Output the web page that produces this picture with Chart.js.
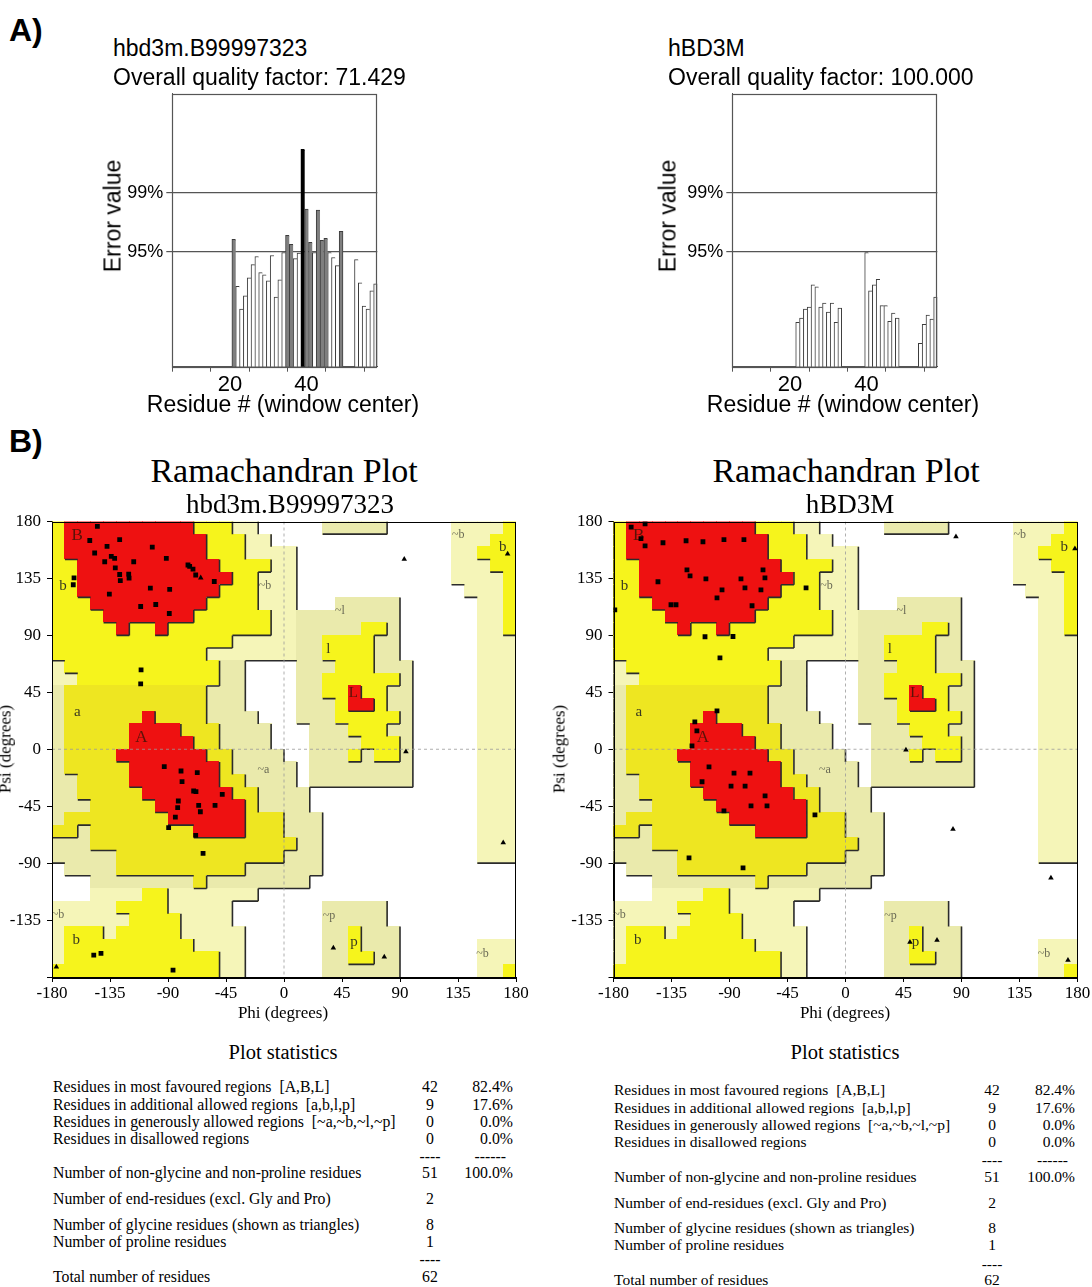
<!DOCTYPE html>
<html><head><meta charset="utf-8">
<script src="https://cdn.jsdelivr.net/npm/chart.js@4.4.1/dist/chart.umd.min.js"></script>
<style>
html,body{margin:0;padding:0;background:#fff;}
#page{position:relative;width:1092px;height:1287px;overflow:hidden;background:#fff;}
canvas{position:absolute;}
.t{position:absolute;white-space:pre;line-height:1;color:#000;}
</style></head><body><div id="page">
<canvas id="errL" width="300" height="330" style="left:100px;top:80px"></canvas>
<canvas id="errR" width="300" height="330" style="left:660px;top:80px"></canvas>
<canvas id="ramaL" width="546" height="530" style="left:0px;top:500px"></canvas>
<canvas id="ramaR" width="532" height="530" style="left:560px;top:500px"></canvas>
</div>
<script>
// ---------------- DATA ----------------
// ERRAT error values (window centre residue -> error value)
const errLResidues = [21,22,23,24,25,26,27,28,29,30,31,32,33,34,35,36,37,38,39,40,41,42,43,44,45,46,47,48,49,53,54,55,56,57,58];
const errLValues   = [12.6,7.96,5.7,7.0,8.8,10.1,10.9,9.3,9.1,8.5,11.0,6.9,8.6,11.3,13.0,12.1,10.7,11.25,21.5,15.6,12.3,11.3,15.5,12.5,12.7,11.3,10.8,10.0,13.4,10.6,8.3,6.0,5.7,7.5,8.2];
const errRResidues = [22,23,24,25,26,27,28,29,30,31,32,33,40,41,42,43,44,45,46,47,48,54,55,56,57,58];
const errRValues   = [4.4,4.8,5.7,5.9,8.1,7.9,5.9,6.3,5.4,6.3,4.4,5.8,11.3,7.5,8.1,8.65,6.05,6.05,4.5,5.3,4.8,2.3,4.2,5.1,4.7,6.9];
const errThresholds = [11.38, 17.19];          // 95%, 99%
const errThresholdLabels = ['95%', '99%'];
const errXTicks = [10,20,30,40,50];
const errXLabelled = [20,40];
const errTitlesL = ['hbd3m.B99997323', 'Overall quality factor: 71.429'];
const errTitlesR = ['hBD3M', 'Overall quality factor: 100.000'];

// Ramachandran points [phi, psi]
const squaresL = [[-144.8,176.1],[-150.7,165.0],[-127.5,165.6],[-137.3,160.3],[-146.9,155.1],[-102.2,159.8],[-134.0,152.4],[-131.4,150.8],[-139.1,148.2],[-116.6,148.2],[-91.3,150.8],[-130.9,143.4],[-127.5,138.1],[-120.5,138.4],[-127.0,133.2],[-120.2,135.3],[-74.5,145.6],[-73.2,144.5],[-70.6,142.4],[-68.5,137.7],[-162.9,135.5],[-163.5,130.0],[-103.7,127.4],[-88.7,126.3],[-135.5,122.6],[-99.5,114.4],[-111.2,112.8],[-89.0,107.3],[-110.9,62.7],[-111.2,51.7],[-54.1,132.6],
  [-92.9,-13.8],[-79.9,-17.2],[-67.3,-18.5],[-79.1,-25.6],[-70.1,-33.0],[-68.3,-33.5],[-82.0,-40.9],[-66.2,-44.3],[-82.5,-46.2],[-64.9,-49.4],[-84.3,-53.6],[-89.5,-62.0],[-68.5,-68.0],[-62.8,-82.3],[-47.9,-35.6],[-53.5,-44.3],
  [-147.6,-162.7],[-142.0,-161.4],[-86.1,-174.6]];
const trianglesL = [[-64.6,135.5],[93.3,150.3],[173.5,154.3],[94.6,-1.9],[170.1,-73.9],[77.8,-164.1],[38.3,-157.0],[-176.6,-172.0]];
const squaresR = [[-166.3,175.6],[-155.5,178.2],[-158.7,166.4],[-155.5,160.8],[-141.6,163.2],[-123.7,164.8],[-110.6,164.0],[-94.3,165.6],[-78.8,165.6],[-123.0,141.8],[-120.6,137.1],[-145.5,132.4],[-108.3,134.7],[-81.1,134.7],[-64.0,141.8],[-62.5,135.5],[-65.6,126.0],[-95.8,126.0],[-78.0,127.6],[-99.7,119.7],[-135.4,114.2],[-131.5,114.2],[-72.5,113.4],[-109.0,88.9],[-179.0,110.2],[-30.6,127.6],[-97.4,72.2],[-87.3,89.1],
  [-116.9,21.6],[-115.3,14.5],[-99.7,30.3],[-119.1,2.6],[-105.9,-14.0],[-86.5,-18.8],[-74.1,-18.8],[-88.8,-29.1],[-77.9,-29.1],[-62.4,-36.8],[-60.9,-44.7],[-73.3,-44.7],[-94.3,-48.7],[-111.3,-25.7],[-23.7,-51.8],[-121.4,-85.8],[-79.5,-93.8]];
const trianglesR = [[85.7,168.0],[178.0,158.5],[46.9,-0.6],[83.4,-63.1],[159.4,-101.7],[50.0,-152.4],[71.0,-150.9],[172.6,-166.7]];

// Region map: 36 rows (psi 180 -> -180, 10 deg each) x 36 cols (phi -180 -> 180), run-length coded
// R core, Y/y allowed, P/K generous, W disallowed
const regionRLE = [
 'Y1R10Y3P2W5K5W5P4Y1','Y1R11Y3P2W14P3Y2','Y1R11Y3P4W12P2Y3','Y2R11Y4P2W12P3Y2',
 'Y2R12Y2P3W12P4Y1','Y2R11Y3P3W13P3Y1','Y3R9Y4P3W3K5W6P2Y1','Y4R7Y6P2K8W6P2Y1',
 'Y5R1Y2R1Y8P2K5Y2K1W6P2Y1','Y14P5K2Y4K2W6P3','Y12P7K2Y4K2W6P3','P1Y12K2W4K3Y3K3W5P3',
 'P2Y11K2W4K2Y6K1W5P3','K1y11K3W4K2Y2R1Y2K2W5P3','K1y11K3W4K3Y1R2Y1K2W5P3','K1y6R1y4K4W3K3Y5K1W5P3',
 'K1y5R4y3K4W3K3Y3K2W5P3','K1y5R5y2K4W3K4Y3K1W5P3','K1y4R7y2K4W2K3Y1K1Y2K1W5P3','K1y5R7y1K5W1K8W5P3',
 'K2y4R7y2K4W1K8W5P3','K2y5R7y2K4W13P3','K3y5R7y1K4W13P3','K1y8R6y3K3W12P3',
 'y2K1y8R4y3K3W12P3','K3y16K2W12P3','K5y13K3W12P3','W1K4y10K6W15',
 'W3K8y1K8W16','W3P4Y2P7W20','P5Y4P5W7K5W10','P6Y4P4W7K5W10',
 'P1Y3P1Y5P5W6K2Y1K3W9','P1Y10P4W6K2Y1K3W6P3','P1Y12P2W6K2Y2K2W6P3','Y13P2W6K6W6P2Y1'];
const regionLabels = [['B',-160.4,169.3],['b',-171.4,129.2],['A',-110.7,9.2],['a',-160.4,29.0],['L',53.8,44.8],['l',34.4,79.1],
 ['~b',-14.7,129.2],['~l',43.4,109.4],['~a',-16.0,-16.4],['~b',135.2,169.3],['b',169.7,159.5],['~b',-175.3,-130.5],
 ['b',-161.1,-150.9],['~p',34.9,-131.6],['p',54.3,-152.2],['~b',154.1,-161.4]];
const ramaTicks = [-180,-135,-90,-45,0,45,90,135,180];
const ramaTitlesL = ['Ramachandran Plot','hbd3m.B99997323'];
const ramaTitlesR = ['Ramachandran Plot','hBD3M'];

// Plot statistics
const statLabels = ['Residues in most favoured regions  [A,B,L]','Residues in additional allowed regions  [a,b,l,p]',
 'Residues in generously allowed regions  [~a,~b,~l,~p]','Residues in disallowed regions',
 'Number of non-glycine and non-proline residues','Number of end-residues (excl. Gly and Pro)',
 'Number of glycine residues (shown as triangles)','Number of proline residues','Total number of residues'];
const statCountsL = ['42','9','0','0','51','2','8','1','62'];
const statPctL = ['82.4%','17.6%','0.0%','0.0%','100.0%','','','',''];
const statCountsR = ['42','9','0','0','51','2','8','1','62'];
const statPctR = ['82.4%','17.6%','0.0%','0.0%','100.0%','','','',''];

// ---------------- RENDER ----------------
const page = document.getElementById('page');
const SANS = "'Liberation Sans', Arial, sans-serif";
const SERIF = "'Liberation Serif', 'Times New Roman', serif";
function addText(str, x, y, o) {
  const d = document.createElement('div');
  d.className = 't';
  d.textContent = str;
  d.style.left = x + 'px'; d.style.top = y + 'px';
  d.style.fontFamily = o.family || SERIF;
  d.style.fontSize = o.size + 'px';
  if (o.weight) d.style.fontWeight = o.weight;
  const tx = o.align === 'center' ? '-50%' : o.align === 'right' ? '-100%' : '0';
  d.style.transform = o.rotate ? 'translate(-50%,-50%) rotate(-90deg)' : 'translate(' + tx + ',-50%)';
  page.appendChild(d);
}

// panel letters
addText('A)', 9, 30, {family: SANS, size: 32, weight: 'bold'});
addText('B)', 9, 441, {family: SANS, size: 32, weight: 'bold'});

const framePlugin = {
  id: 'frame',
  afterDraw(chart, args, opts) {
    const a = chart.chartArea, c = chart.ctx;
    c.save(); c.strokeStyle = opts.color || '#000'; c.lineWidth = opts.width || 1;
    c.strokeRect(Math.round(a.left) + 0.5, Math.round(a.top) + 0.5, Math.round(a.right - a.left) - 1, Math.round(a.bottom - a.top));
    c.restore();
  }
};

function errChart(id, residues, values, titles, left, xTitleCenter) {
  addText(titles[0], left, 48, {family: SANS, size: 23});
  addText(titles[1], left, 77, {family: SANS, size: 23});
  addText('Error value', left, 216, {family: SANS, size: 23, rotate: true});
  const pts = residues.map((r, i) => ({x: r, y: values[i]}));
  const resSet = new Set(residues);
  new Chart(document.getElementById(id), {
    type: 'bar',
    data: {datasets: [{
      data: pts,
      barPercentage: 1, categoryPercentage: 1,
      backgroundColor: c => { const v = c.raw ? c.raw.y : 0; return v > errThresholds[1] ? '#000' : v > errThresholds[0] ? '#7f7f7f' : '#fff'; },
      borderColor: c => { const v = c.raw ? c.raw.y : 0; return v > errThresholds[1] ? '#000' : '#3c3c3c'; },
      borderWidth: c => { const r = c.raw ? c.raw.x : 0; return {left: 1, top: 1, right: resSet.has(r + 1) ? 0 : 1, bottom: 0}; },
      borderSkipped: 'start'
    }]},
    options: {
      animation: false, responsive: false, maintainAspectRatio: false,
      layout: {padding: {top: 13.3, right: 22.7, left: 0, bottom: 0}},
      plugins: {legend: {display: false}, tooltip: {enabled: false}, frame: {color: '#555', width: 1.2}},
      scales: {
        x: {type: 'linear', min: 4.95, max: 58.45, offset: false,
          afterBuildTicks: s => { s.ticks = errXTicks.map(v => ({value: v})); },
          ticks: {callback: v => errXLabelled.includes(v) ? String(v) : '', font: {family: SANS, size: 22}, color: '#000', padding: 0, maxRotation: 0, autoSkip: false},
          grid: {drawOnChartArea: false, drawTicks: true, tickLength: 5, color: '#555'},
          border: {display: true, color: '#555'},
          afterFit: s => { s.height = 43.3; }},
        y: {type: 'linear', min: 0, max: 27,
          afterBuildTicks: s => { s.ticks = errThresholds.map(v => ({value: v})); },
          ticks: {callback: v => errThresholdLabels[errThresholds.indexOf(v)], font: {family: SANS, size: 18}, color: '#000', padding: 3},
          grid: {drawOnChartArea: true, drawTicks: true, tickLength: 6, color: '#555', lineWidth: 1.2},
          border: {display: true, color: '#555'},
          afterFit: s => { s.width = 72.3; }}
      }
    },
    plugins: [framePlugin]
  });
  addText('Residue # (window center)', xTitleCenter, 404, {family: SANS, size: 23, align: 'center'});
}
errChart('errL', errLResidues, errLValues, errTitlesL, 113, 283);
errChart('errR', errRResidues, errRValues, errTitlesR, 668, 843);

// Region grid decode
const regionGrid = regionRLE.map(s => {
  let out = '';
  s.replace(/([A-Za-z])(\d+)/g, (m, ch, n) => { out += ch.repeat(+n); return m; });
  return out;
});
const RANK = {R: 3, Y: 2, y: 2, P: 1, K: 1, W: 0};
const FILL = {R: '#ee1111', Y: '#f6f41c', y: '#eee621', P: '#f5f5b8', K: '#eaeaac'};

const regionPlugin = {
  id: 'ramaRegions',
  beforeDatasetsDraw(chart) {
    const {ctx, chartArea: a} = chart;
    const xs = chart.scales.x, ys = chart.scales.y;
    ctx.save();
    ctx.beginPath(); ctx.rect(a.left, a.top, a.right - a.left, a.bottom - a.top); ctx.clip();
    const px = c => xs.getPixelForValue(-180 + 10 * c);
    const py = r => ys.getPixelForValue(180 - 10 * r);
    for (let r = 0; r < 36; r++) for (let c = 0; c < 36; c++) {
      const t = regionGrid[r][c];
      if (t === 'W') continue;
      const x0 = Math.floor(px(c)), x1 = Math.ceil(px(c + 1)), y0 = Math.floor(py(r)), y1 = Math.ceil(py(r + 1));
      ctx.fillStyle = FILL[t];
      ctx.fillRect(x0, y0, x1 - x0, y1 - y0);
    }
    ctx.strokeStyle = '#2b2b2b'; ctx.lineWidth = 1.6; ctx.beginPath();
    for (let r = 0; r < 36; r++) for (let c = 0; c < 36; c++) {
      const k = RANK[regionGrid[r][c]];
      if (c < 35 && k > RANK[regionGrid[r][c + 1]]) { ctx.moveTo(px(c + 1), py(r)); ctx.lineTo(px(c + 1), py(r + 1)); }
      if (r < 35 && k > RANK[regionGrid[r + 1][c]]) { ctx.moveTo(px(c), py(r + 1)); ctx.lineTo(px(c + 1), py(r + 1)); }
    }
    ctx.stroke();
    // zero lines
    ctx.strokeStyle = '#9a9a9a'; ctx.lineWidth = 0.8; ctx.setLineDash([3, 3]); ctx.beginPath();
    ctx.moveTo(xs.getPixelForValue(0), a.top); ctx.lineTo(xs.getPixelForValue(0), a.bottom);
    ctx.moveTo(a.left, ys.getPixelForValue(0)); ctx.lineTo(a.right, ys.getPixelForValue(0));
    ctx.stroke(); ctx.setLineDash([]);
    // region labels
    ctx.textAlign = 'center'; ctx.textBaseline = 'middle';
    regionLabels.forEach(([s, phi, psi]) => {
      const big = s === 'A' || s === 'B';
      const tilde = s[0] === '~';
      ctx.font = (big ? 17 : tilde ? 12 : 15) + "px 'Liberation Serif', serif";
      ctx.fillStyle = (s === 'A' || s === 'B' || s === 'L') ? '#5a1208' : tilde ? '#6a6a55' : '#3a3a20';
      ctx.fillText(s, xs.getPixelForValue(phi), ys.getPixelForValue(psi));
    });
    ctx.restore();
  }
};

function ramaChart(id, squares, triangles, yAxisW, rightPad) {
  new Chart(document.getElementById(id), {
    type: 'scatter',
    data: {datasets: [
      {data: squares.map(([x, y]) => ({x, y})), pointStyle: 'rect', pointRadius: 3.4, backgroundColor: '#000', borderColor: '#000', borderWidth: 0},
      {data: triangles.map(([x, y]) => ({x, y})), pointStyle: 'triangle', pointRadius: 3.2, backgroundColor: '#000', borderColor: '#000', borderWidth: 0}
    ]},
    options: {
      animation: false, responsive: false, maintainAspectRatio: false,
      layout: {padding: {top: 21.5, right: rightPad, left: 0, bottom: 0}},
      plugins: {legend: {display: false}, tooltip: {enabled: false}, frame: {color: '#000', width: 1}},
      scales: {
        x: {type: 'linear', min: -180, max: 180,
          afterBuildTicks: s => { s.ticks = ramaTicks.map(v => ({value: v})); },
          ticks: {callback: v => String(v), font: {family: SERIF, size: 17}, color: '#000', padding: 1, maxRotation: 0, autoSkip: false},
          grid: {drawOnChartArea: false, drawTicks: true, tickLength: 5, color: '#000'},
          border: {display: true, color: '#000'},
          afterFit: s => { s.height = 53; }},
        y: {type: 'linear', min: -180, max: 180,
          afterBuildTicks: s => { s.ticks = ramaTicks.map(v => ({value: v})); },
          ticks: {callback: v => v === -180 ? '' : String(v), font: {family: SERIF, size: 17}, color: '#000', padding: 6, autoSkip: false},
          grid: {drawOnChartArea: false, drawTicks: true, tickLength: 5, color: '#000'},
          border: {display: true, color: '#000'},
          afterFit: s => { s.width = yAxisW; }}
      }
    },
    plugins: [regionPlugin, framePlugin]
  });
}
ramaChart('ramaL', squaresL, trianglesL, 52, 30);
ramaChart('ramaR', squaresR, trianglesR, 53.5, 14.5);

// Rama titles & axis titles
addText(ramaTitlesL[0], 284, 471, {size: 34, align: 'center'});
addText(ramaTitlesL[1], 290, 504, {size: 27, align: 'center'});
addText(ramaTitlesR[0], 846, 471, {size: 34, align: 'center'});
addText(ramaTitlesR[1], 850, 504, {size: 27, align: 'center'});
addText('Phi (degrees)', 283, 1012, {size: 17, align: 'center'});
addText('Phi (degrees)', 845, 1012, {size: 17, align: 'center'});
addText('Psi (degrees)', 5, 749, {size: 17, rotate: true});
addText('Psi (degrees)', 559, 749, {size: 17, rotate: true});

// statistics tables
function statTable(cx, lx, countX, pctX, ys, seps, size, counts, pcts, titleY) {
  addText('Plot statistics', cx, titleY, {size: 20.5, align: 'center'});
  statLabels.forEach((s, i) => {
    addText(s, lx, ys[i], {size: size});
    addText(counts[i], countX, ys[i], {size: size, align: 'center'});
    if (pcts[i]) addText(pcts[i], pctX, ys[i], {size: size, align: 'right'});
  });
  addText('----', countX, seps[0], {size: size, align: 'center'});
  addText('------', pctX - 7, seps[0], {size: size, align: 'right'});
  addText('----', countX, seps[1], {size: size, align: 'center'});
}
statTable(283, 53, 430, 513, [1087,1105,1122,1139,1173,1199,1225,1242,1277], [1157,1260], 15.8, statCountsL, statPctL, 1052);
statTable(845, 614, 992, 1075, [1090,1108,1125,1142,1177,1203,1228,1245,1280], [1160,1264], 15.5, statCountsR, statPctR, 1052);
</script></body></html>
